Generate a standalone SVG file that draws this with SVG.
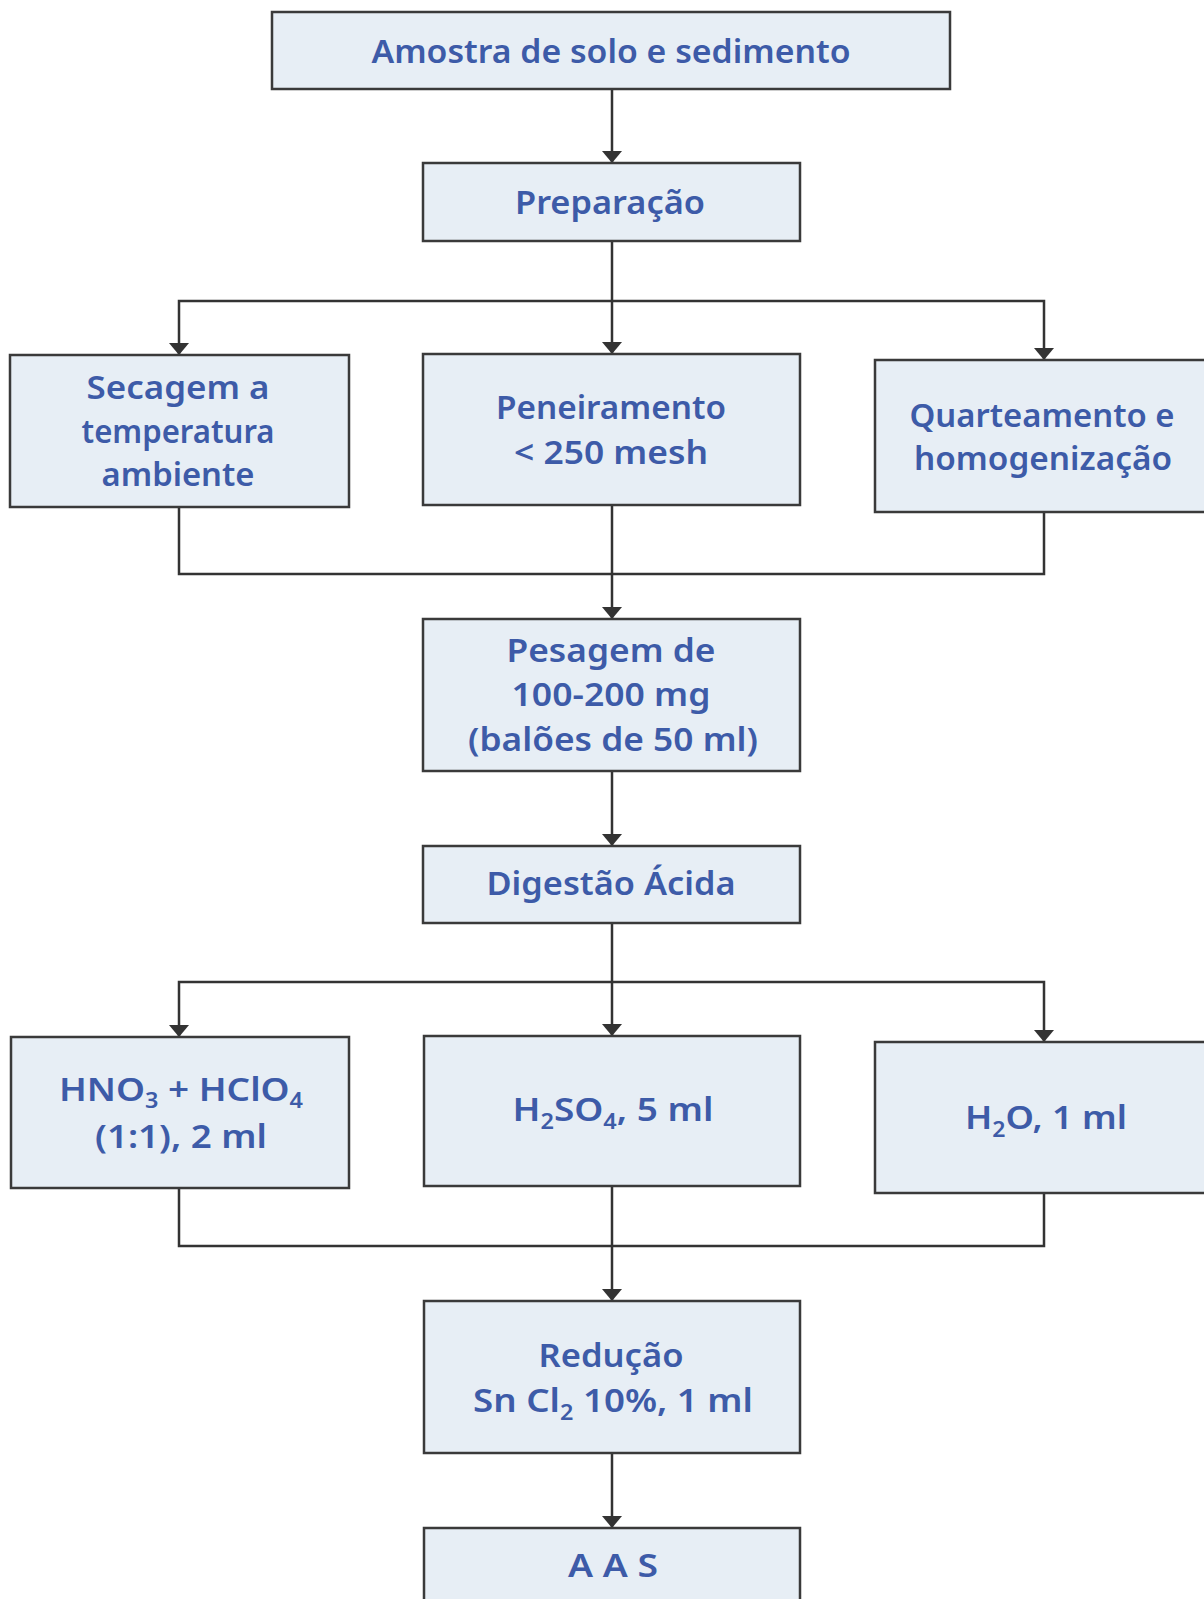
<svg xmlns="http://www.w3.org/2000/svg" width="1204" height="1599" viewBox="0 0 1204 1599">
<defs>
<style>
.box{fill:#e7eef5;stroke:#3a3a3a;stroke-width:2.5}
.t{font-family:"Comic Sans MS","Noto Sans","DejaVu Sans",sans-serif;font-size:33px;font-weight:600;fill:#3d5ba8;text-anchor:middle}
.sub{font-size:21px}
.c{fill:none;stroke:#333;stroke-width:2.5}
</style>
<marker id="ah" viewBox="0 0 12 20" refX="12" refY="10" markerWidth="12" markerHeight="20" markerUnits="userSpaceOnUse" orient="auto">
<path d="M0,0 L12,10 L0,20 Z" fill="#333"/>
</marker>
</defs>
<rect width="1204" height="1599" fill="#ffffff"/>

<g id="connectors">
<path class="c" d="M612,89 V163" marker-end="url(#ah)"/>
<path class="c" d="M612,241 V354" marker-end="url(#ah)"/>
<path class="c" d="M612,301 H179 V355" marker-end="url(#ah)"/>
<path class="c" d="M612,301 H1044 V360" marker-end="url(#ah)"/>
<path class="c" d="M179,507 V574 H1044 V512"/>
<path class="c" d="M612,505 V619" marker-end="url(#ah)"/>
<path class="c" d="M612,771 V846" marker-end="url(#ah)"/>
<path class="c" d="M612,923 V1036" marker-end="url(#ah)"/>
<path class="c" d="M612,982 H179 V1037" marker-end="url(#ah)"/>
<path class="c" d="M612,982 H1044 V1042" marker-end="url(#ah)"/>
<path class="c" d="M179,1188 V1246 H1044 V1193"/>
<path class="c" d="M612,1186 V1301" marker-end="url(#ah)"/>
<path class="c" d="M612,1453 V1528" marker-end="url(#ah)"/>
</g>

<g id="amostra">
<rect class="box" x="272" y="12" width="678" height="77"/>
<text class="t" x="611" y="63" textLength="479" lengthAdjust="spacingAndGlyphs">Amostra de solo e sedimento</text>
</g>

<g id="preparacao">
<rect class="box" x="423" y="163" width="377" height="78"/>
<text class="t" x="610" y="214" textLength="190" lengthAdjust="spacingAndGlyphs">Preparação</text>
</g>

<g id="secagem">
<rect class="box" x="10" y="355" width="339" height="152"/>
<text class="t" x="178" y="399" textLength="183" lengthAdjust="spacingAndGlyphs">Secagem a</text>
<text class="t" x="178" y="443" textLength="193" lengthAdjust="spacingAndGlyphs">temperatura</text>
<text class="t" x="178" y="486" textLength="153" lengthAdjust="spacingAndGlyphs">ambiente</text>
</g>

<g id="peneiramento">
<rect class="box" x="423" y="354" width="377" height="151"/>
<text class="t" x="611" y="419" textLength="230" lengthAdjust="spacingAndGlyphs">Peneiramento</text>
<text class="t" x="611" y="464" textLength="194" lengthAdjust="spacingAndGlyphs">&lt; 250 mesh</text>
</g>

<g id="quarteamento">
<rect class="box" x="875" y="360" width="340" height="152"/>
<text class="t" x="1042" y="427" textLength="265" lengthAdjust="spacingAndGlyphs">Quarteamento e</text>
<text class="t" x="1043" y="470" textLength="258" lengthAdjust="spacingAndGlyphs">homogenização</text>
</g>

<g id="pesagem">
<rect class="box" x="423" y="619" width="377" height="152"/>
<text class="t" x="611" y="662" textLength="209" lengthAdjust="spacingAndGlyphs">Pesagem de</text>
<text class="t" x="611" y="706" textLength="199" lengthAdjust="spacingAndGlyphs">100-200 mg</text>
<text class="t" x="613" y="751" textLength="290" lengthAdjust="spacingAndGlyphs">(balões de 50 ml)</text>
</g>

<g id="digestao">
<rect class="box" x="423" y="846" width="377" height="77"/>
<text class="t" x="611" y="895" textLength="249" lengthAdjust="spacingAndGlyphs">Digestão Ácida</text>
</g>

<g id="hno3">
<rect class="box" x="11" y="1037" width="338" height="151"/>
<text class="t" x="181" y="1101" textLength="244" lengthAdjust="spacingAndGlyphs">HNO<tspan class="sub" dy="7">3</tspan><tspan dy="-7"> + HClO</tspan><tspan class="sub" dy="7">4</tspan></text>
<text class="t" x="181" y="1148" textLength="172" lengthAdjust="spacingAndGlyphs">(1:1), 2 ml</text>
</g>

<g id="h2so4">
<rect class="box" x="424" y="1036" width="376" height="150"/>
<text class="t" x="613" y="1121" textLength="201" lengthAdjust="spacingAndGlyphs">H<tspan class="sub" dy="8">2</tspan><tspan dy="-8">SO</tspan><tspan class="sub" dy="8">4</tspan><tspan dy="-8">, 5 ml</tspan></text>
</g>

<g id="h2o">
<rect class="box" x="875" y="1042" width="340" height="151"/>
<text class="t" x="1046" y="1129" textLength="162" lengthAdjust="spacingAndGlyphs">H<tspan class="sub" dy="8">2</tspan><tspan dy="-8">O, 1 ml</tspan></text>
</g>

<g id="reducao">
<rect class="box" x="424" y="1301" width="376" height="152"/>
<text class="t" x="611" y="1367" textLength="145" lengthAdjust="spacingAndGlyphs">Redução</text>
<text class="t" x="613" y="1412" textLength="280" lengthAdjust="spacingAndGlyphs">Sn Cl<tspan class="sub" dy="8">2</tspan><tspan dy="-8"> 10%, 1 ml</tspan></text>
</g>

<g id="aas">
<rect class="box" x="424" y="1528" width="376" height="90"/>
<text class="t" x="613" y="1577" textLength="90" lengthAdjust="spacingAndGlyphs">A A S</text>
</g>
</svg>
